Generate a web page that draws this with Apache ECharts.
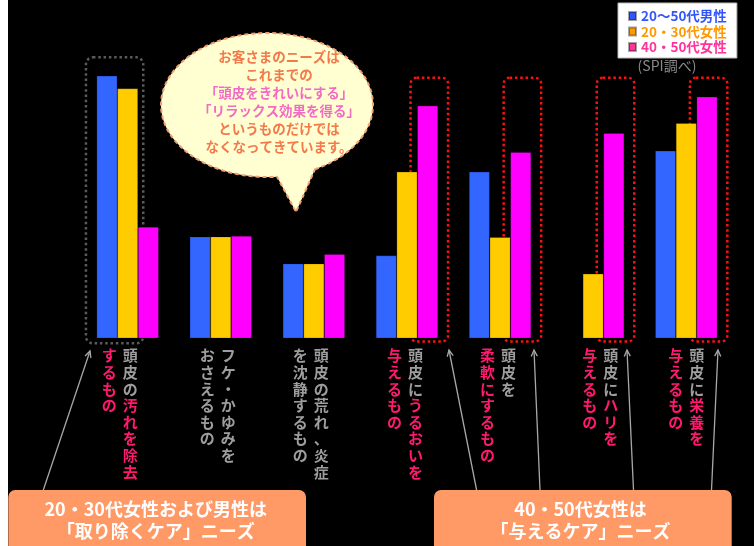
<!DOCTYPE html>
<html>
<head>
<meta charset="utf-8">
<script src="https://cdn.jsdelivr.net/npm/echarts@6/dist/echarts.min.js"></script>
<style>
html,body{margin:0;padding:0;background:#000;}
#chart{width:754px;height:546px;}
</style>
</head>
<body>
<div id="chart"></div>
<script>
// ---------------- data ----------------
const categories = [
  '頭皮の汚れを除去するもの',
  'フケ・かゆみをおさえるもの',
  '頭皮の荒れ、炎症を沈静するもの',
  '頭皮にうるおいを与えるもの',
  '頭皮を柔軟にするもの',
  '頭皮にハリを与えるもの',
  '頭皮に栄養を与えるもの'
];
// vertical label columns, right column first; [..] = highlighted part
const labelColumns = [
  ['頭皮の[汚れを除去]', '[するもの]'],
  ['フケ・かゆみを', 'おさえるもの'],
  ['頭皮の荒れ、炎症', 'を沈静するもの'],
  ['頭皮に[うるおいを]', '[与えるもの]'],
  ['頭皮を', '[柔軟にするもの]'],
  ['頭皮に[ハリを]', '[与えるもの]'],
  ['頭皮に[栄養を]', '[与えるもの]']
];
const seriesNames = ['20〜50代男性', '20・30代女性', '40・50代女性'];
const men2050   = [87.5, 33.9, 24.9, 27.6, 55.5, null, 62.5];
const women2030 = [83.3, 33.9, 24.9, 55.5, 33.7, 21.5, 71.7];
const women4050 = [37.1, 34.1, 28.0, 77.5, 62.0, 68.4, 80.5];
const bubbleLines = [
  ['お客さまのニーズは', 'o'],
  ['これまでの', 'o'],
  ['「頭皮をきれいにする」', 'k'],
  ['「リラックス効果を得る」', 'k'],
  ['というものだけでは', 'o'],
  ['なくなってきています。', 'o']
];
const box1Lines = ['20・30代女性および男性は', '「取り除くケア」ニーズ'];
const box2Lines = ['40・50代女性は', '「与えるケア」ニーズ'];
const sourceNote = '(SPI調べ)';

// ---------------- layout / style ----------------
const FONT = '"Noto Sans CJK JP", "Noto Sans", sans-serif';
const barColors = ['#3366ff', '#ffcc00', '#ff00ff'];
const legendColors = ['#3355ff', '#ff9900', '#ff3399'];
const labelShift = [-8, -3, -3, -2, -2, 7, 0];

function parseCol(s) {
  const out = []; let hi = false;
  for (const ch of s) {
    if (ch === '[') { hi = true; continue; }
    if (ch === ']') { hi = false; continue; }
    out.push({ ch, hi });
  }
  return out;
}
function buildLabel(idx) {
  const cols = labelColumns[idx].map(parseCol).reverse(); // left to right
  const rows = Math.max(...cols.map(c => c.length));
  const lines = [];
  for (let r = 0; r < rows; r++) {
    let s = '';
    for (const c of cols) {
      const t = c[r];
      s += t ? '{' + (t.hi ? 'p' : 'g') + '|' + t.ch + '}' : '{g|　}';
    }
    lines.push(s);
  }
  return lines.join('\n');
}

const chart = echarts.init(document.getElementById('chart'));
const labelRich = {
  g: { color: '#9e9e9e', fontSize: 15, fontWeight: 'bold', width: 21, align: 'center', lineHeight: 16.6, fontFamily: FONT },
  p: { color: '#ff1a6e', fontSize: 15, fontWeight: 'bold', width: 21, align: 'center', lineHeight: 16.6, fontFamily: FONT }
};

const option = {
  backgroundColor: '#000',
  animation: false,
  grid: { left: 81.1, right: 21.2, top: 38.3, bottom: 207.7 },
  legend: {
    orient: 'vertical', left: 618, top: 3,
    backgroundColor: '#fff', borderColor: '#bbbbbb', borderWidth: 1,
    padding: [6, 10, 4, 10], itemGap: 1.5, itemWidth: 7, itemHeight: 8,
    icon: 'rect',
    textStyle: { fontSize: 13.5, fontWeight: 'bold', lineHeight: 14, fontFamily: FONT },
    data: seriesNames.map((n, i) => ({ name: n, itemStyle: { color: legendColors[i] }, textStyle: { color: legendColors[i] } }))
  },
  xAxis: {
    type: 'category',
    data: categories.map((c, i) => ({ value: c, textStyle: { padding: [0, labelShift[i] < 0 ? -2 * labelShift[i] : 0, 0, labelShift[i] > 0 ? 2 * labelShift[i] : 0] } })),
    axisLine: { show: false }, axisTick: { show: false },
    axisLabel: {
      interval: 0, margin: 9, verticalAlign: 'top',
      formatter: (v, i) => buildLabel(i),
      rich: labelRich
    }
  },
  yAxis: { type: 'value', min: 0, max: 100, show: false, splitLine: { show: false } },
  series: [men2050, women2030, women4050].map((d, i) => ({
    name: seriesNames[i], type: 'bar', data: d, barWidth: 20.7, barGap: '0%',
    itemStyle: { color: barColors[i], borderColor: 'rgba(0,0,0,0.35)', borderWidth: 0.6 },
    z: 2
  }))
};
chart.setOption(option);

// ---------------- annotations ----------------
const cx = i => chart.convertToPixel({ xAxisIndex: 0 }, i);
const g = [];
// white strip on the left edge
g.push({ type: 'rect', shape: { x: 0, y: 0, width: 8, height: 546 }, style: { fill: '#fff' }, z: 0 });
// gray dotted box around first group (blue + orange)
g.push({ type: 'rect', z: 1, shape: { x: cx(0) - 41.7, y: 57.3, width: 57.3, height: 286, r: 7 },
  style: { fill: 'none', stroke: '#5a5a5a', lineWidth: 2.5, lineDash: [2.5, 2.8] } });
// red dotted boxes around 40-50 women bars
[3, 4, 5, 6].forEach(i => {
  g.push({ type: 'rect', z: 1, shape: { x: cx(i) + 3.6, y: 77.8, width: 37.5, height: 263.7, r: 6 },
    style: { fill: 'none', stroke: '#ff1010', lineWidth: 2.5, lineDash: [2.5, 2.8] } });
});
// speech bubble (ellipse + tail as polygon)
const ecx = 267, ecy = 105, erx = 106, ery = 72;
const lx = 277, rxp = 315, tip = [296, 212];
const aL = Math.acos((lx - ecx) / erx);
const aR = Math.acos((rxp - ecx) / erx);
const pts = [];
const start = aR, end = aL - 2 * Math.PI;
const N = 160;
for (let k = 0; k <= N; k++) {
  const t = start + (end - start) * k / N;
  pts.push([ecx + erx * Math.cos(t), ecy + ery * Math.sin(t)]);
}
pts.push(tip);
g.push({ type: 'polygon', z: 5, shape: { points: pts },
  style: { fill: '#ffffd2', stroke: '#f5a070', lineWidth: 2, lineDash: [4, 3] } });
g.push({ type: 'text', z: 6, x: 279, y: 101.7,
  style: {
    text: bubbleLines.map(l => '{' + l[1] + '|' + l[0] + '}').join('\n'),
    align: 'center', verticalAlign: 'middle',
    rich: {
      o: { fill: '#f27a4c', fontSize: 13.5, fontWeight: 'bold', lineHeight: 18, fontFamily: FONT },
      k: { fill: '#f26cc4', fontSize: 13.5, fontWeight: 'bold', lineHeight: 18, fontFamily: FONT }
    }
  } });
// source note
g.push({ type: 'text', z: 6, x: 667, y: 66,
  style: { text: sourceNote, fill: '#8a8a8a', fontSize: 14, fontFamily: FONT, align: 'center', verticalAlign: 'middle' } });
// arrows
function arrow(x1, y1, x2, y2) {
  const ang = Math.atan2(y2 - y1, x2 - x1);
  const L = 7, a = 0.45;
  g.push({ type: 'polyline', z: 3, shape: { points: [[x1, y1], [x2, y2]] }, style: { stroke: '#a8a8a8', lineWidth: 1.3 } });
  g.push({ type: 'polyline', z: 3, shape: { points: [
    [x2 - L * Math.cos(ang - a), y2 - L * Math.sin(ang - a)], [x2, y2],
    [x2 - L * Math.cos(ang + a), y2 - L * Math.sin(ang + a)]] },
    style: { stroke: '#a8a8a8', lineWidth: 1.3, fill: null } });
}
arrow(43.3, 490, 90, 351);
arrow(476.6, 490, 449, 350);
arrow(540, 490, 534, 350);
arrow(633.5, 490, 627, 350);
arrow(711.5, 490, 718, 350);
// bottom orange boxes
function bottomBox(x, w, tx, lines) {
  g.push({ type: 'rect', z: 4, shape: { x: x, y: 490, width: w, height: 64, r: 7 }, style: { fill: '#ff9966' } });
  g.push({ type: 'text', z: 5, x: tx, y: 520.2,
    style: { text: lines.join('\n'), fill: '#fff', fontSize: 18, fontWeight: 'bold', lineHeight: 21.7, fontFamily: FONT,
      align: 'center', verticalAlign: 'middle' } });
}
bottomBox(8.3, 297.7, 155.7, box1Lines);
bottomBox(434, 297.7, 580.5, box2Lines);

chart.setOption({ graphic: { elements: g } });
</script>
</body>
</html>
